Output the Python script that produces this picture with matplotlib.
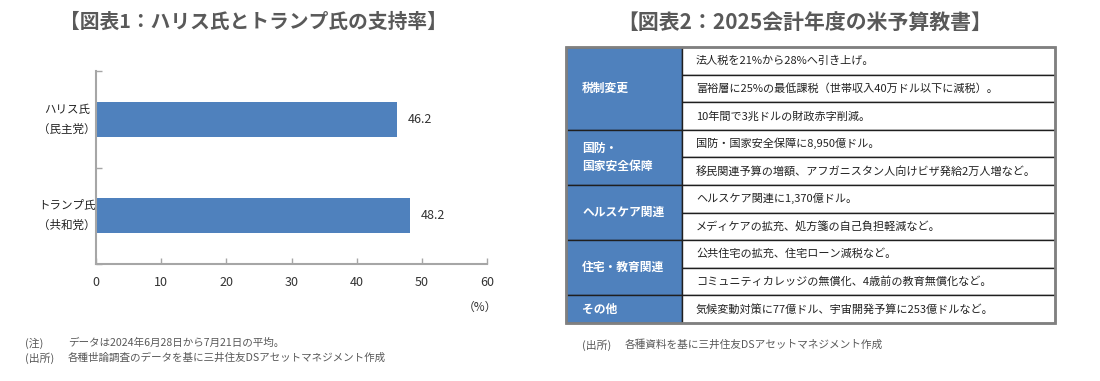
import matplotlib
matplotlib.use("Agg")
import matplotlib.pyplot as plt
from matplotlib.patches import Rectangle

plt.rcParams['font.family'] = ['Noto Sans CJK JP', 'DejaVu Sans']

# ---- data ----
title1 = "【図表1：ハリス氏とトランプ氏の支持率】"
title2 = "【図表2：2025会計年度の米予算教書】"
candidates = ["ハリス氏\n（民主党）", "トランプ氏\n（共和党）"]
support = [46.2, 48.2]
x_ticks = [0, 10, 20, 30, 40, 50, 60]
unit_label = "（%）"
note1_head = ["(注)", "(出所)"]
note1_body = ["データは2024年6月28日から7月21日の平均。",
              "各種世論調査のデータを基に三井住友DSアセットマネジメント作成"]
note2_head = "(出所)"
note2_body = "各種資料を基に三井住友DSアセットマネジメント作成"

table_groups = ["税制変更", "国防・\n国家安全保障", "ヘルスケア関連", "住宅・教育関連", "その他"]
table_group_sizes = [3, 2, 2, 2, 1]
table_items = [
    "法人税を21%から28%へ引き上げ。",
    "富裕層に25%の最低課税（世帯収入40万ドル以下に減税）。",
    "10年間で3兆ドルの財政赤字削減。",
    "国防・国家安全保障に8,950億ドル。",
    "移民関連予算の増額、アフガニスタン人向けビザ発給2万人増など。",
    "ヘルスケア関連に1,370億ドル。",
    "メディケアの拡充、処方箋の自己負担軽減など。",
    "公共住宅の拡充、住宅ローン減税など。",
    "コミュニティカレッジの無償化、4歳前の教育無償化など。",
    "気候変動対策に77億ドル、宇宙開発予算に253億ドルなど。",
]

W, H = 1100, 381
fig = plt.figure(figsize=(W / 100, H / 100), dpi=100)
fig.patch.set_facecolor("white")

def px_axes(x0, y0, x1, y1):
    return fig.add_axes([x0 / W, 1 - y1 / H, (x1 - x0) / W, (y1 - y0) / H])

blue = "#4F81BD"
gray_text = "#595959"

# ---- overlay (pixel coords) ----
ov = fig.add_axes([0, 0, 1, 1], zorder=0)
ov.set_xlim(0, W)
ov.set_ylim(H, 0)
ov.axis("off")

# ---- chart 1 ----
ax = px_axes(96, 71, 487, 264)
ypos = list(range(len(candidates)))
ax.barh(ypos, support, height=0.36, color=blue, zorder=2)
ax.set_ylim(len(candidates) - 0.5, -0.5)
ax.set_xlim(x_ticks[0], x_ticks[-1])
ax.set_xticks(x_ticks)
ax.set_xticklabels([str(t) for t in x_ticks], fontsize=9, color="#333333")
ax.set_yticks([y - 0.5 for y in ypos] + [len(candidates) - 0.5])
ax.set_yticklabels([])
for s in ["top", "right"]:
    ax.spines[s].set_visible(False)
for s in ["left", "bottom"]:
    ax.spines[s].set_color("#A6A6A6")
    ax.spines[s].set_linewidth(1.5)
ax.tick_params(axis="both", direction="in", length=4, width=1, color="#A6A6A6")
ax.tick_params(axis="x", pad=9)
ax.set_facecolor("none")
for y, v in zip(ypos, support):
    ax.text(v + 1.6, y, f"{v:.1f}", va="center", ha="left", fontsize=9, color="#333333")
for y, lab in zip(ypos, candidates):
    ax.text(-0.075, y, lab, transform=ax.get_yaxis_transform(), ha="center",
            va="center", fontsize=8.3, linespacing=1.7, color="#222222")
ov.text(480, 307, unit_label, ha="center", va="center", fontsize=8.5, color="#333333")

ov.text(253, 22, title1, ha="center", va="center", fontsize=14.2,
        fontweight="bold", color=gray_text)

for i, (h, b) in enumerate(zip(note1_head, note1_body)):
    yy = 343 + i * 15
    ov.text(25, yy, h, ha="left", va="center", fontsize=7.8, color=gray_text)
    ov.text(68, yy, b, ha="left", va="center", fontsize=7.6, color=gray_text)

# ---- table ----
ov.text(805, 22, title2, ha="center", va="center", fontsize=15,
        fontweight="bold", color=gray_text)
tx0, tx_mid, tx1 = 566, 682, 1055
ty0, ty1 = 47, 323
rh = (ty1 - ty0) / len(table_items)
r = 0
for g, n in zip(table_groups, table_group_sizes):
    top = ty0 + r * rh
    ov.add_patch(Rectangle((tx0, top), tx_mid - tx0, n * rh, facecolor=blue,
                           edgecolor="#1F1F1F", linewidth=1.0, zorder=1))
    ov.text(582, top + n * rh / 2, g, ha="left", va="center", fontsize=8.5,
            fontweight="bold", color="white", linespacing=1.45, zorder=3)
    r += n
for i, item in enumerate(table_items):
    top = ty0 + i * rh
    ov.add_patch(Rectangle((tx_mid, top), tx1 - tx_mid, rh, facecolor="white",
                           edgecolor="#1F1F1F", linewidth=1.0, zorder=1))
    ov.text(696, top + rh / 2, item, ha="left", va="center", fontsize=8.0,
            color="#222222", zorder=3)
ov.add_patch(Rectangle((tx0, ty0), tx1 - tx0, ty1 - ty0, facecolor="none",
                       edgecolor="#808080", linewidth=2.0, zorder=2))

ov.text(582, 345, note2_head, ha="left", va="center", fontsize=7.8, color=gray_text)
ov.text(625, 345, note2_body, ha="left", va="center", fontsize=7.7, color=gray_text)

fig.savefig("out.png", dpi=100, facecolor="white")
